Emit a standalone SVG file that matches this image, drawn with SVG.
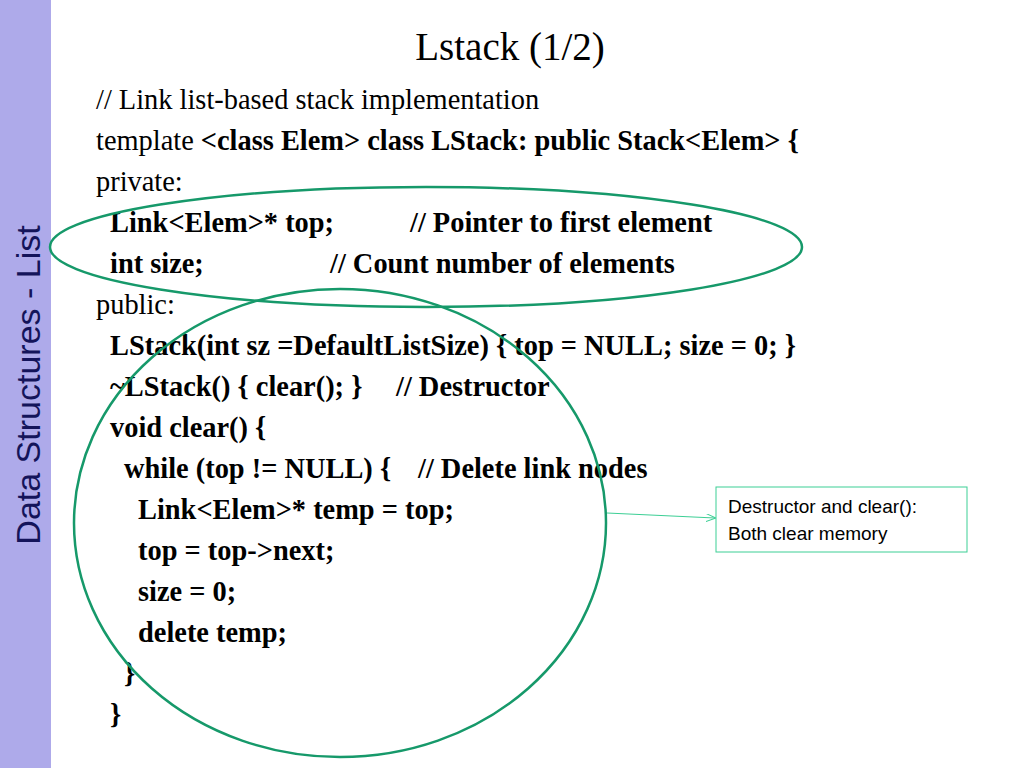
<svg xmlns="http://www.w3.org/2000/svg" width="1024" height="768" viewBox="0 0 1024 768">
<style>
.c{font-family:"Liberation Serif",serif;font-size:28.4px;fill:#000}
.b{font-weight:bold}
.e{fill:none;stroke:#16996a;stroke-width:2.5}
</style>
<defs><marker id="a" markerWidth="10" markerHeight="8" refX="9" refY="4" orient="auto" markerUnits="userSpaceOnUse"><path d="M0,0 L10,4 L0,8" fill="none" stroke="#3ccf95" stroke-width="1"/></marker></defs>
<rect width="1024" height="768" fill="#fff"/>
<rect x="0" y="0" width="51" height="768" fill="#aeaaea"/>
<text transform="translate(40,385) rotate(-90)" text-anchor="middle" font-family="Liberation Sans,sans-serif" font-size="34" fill="#14145a">Data Structures - List</text>
<text x="510" y="60" text-anchor="middle" font-family="Liberation Serif,serif" font-size="39">Lstack (1/2)</text>
<g id="code">
<text class="c" x="96" y="109">// Link list-based stack implementation</text>
<text class="c" x="96" y="150">template <tspan class="b">&lt;class Elem&gt; class LStack: public Stack&lt;Elem&gt; {</tspan></text>
<text class="c" x="96" y="191">private:</text>
<text class="c b" x="110" y="232">Link&lt;Elem&gt;* top;</text>
<text class="c b" x="410" y="232">// Pointer to first element</text>
<text class="c b" x="110" y="273">int size;</text>
<text class="c b" x="330" y="273">// Count number of elements</text>
<text class="c" x="96" y="314">public:</text>
<text class="c b" x="110" y="355">LStack(int sz =DefaultListSize) { top = NULL; size = 0; }</text>
<text class="c b" x="110" y="396">~LStack() { clear(); }</text>
<text class="c b" x="396" y="396">// Destructor</text>
<text class="c b" x="110" y="437">void clear() {</text>
<text class="c b" x="124" y="478">while (top != NULL) {</text>
<text class="c b" x="418" y="478">// Delete link nodes</text>
<text class="c b" x="138" y="519">Link&lt;Elem&gt;* temp = top;</text>
<text class="c b" x="138" y="560">top = top-&gt;next;</text>
<text class="c b" x="138" y="601">size = 0;</text>
<text class="c b" x="138" y="642">delete temp;</text>
<text class="c b" x="124" y="683">}</text>
<text class="c b" x="110" y="724">}</text>
</g>
<g id="ellipses">
<ellipse class="e" cx="426" cy="247" rx="376" ry="60"/>
<ellipse class="e" cx="340" cy="523" rx="266" ry="234"/>
</g>
<g id="note">
<rect x="716" y="487" width="251" height="65" fill="#fff" stroke="#3ccf95" stroke-width="1"/>
<text x="728" y="513" font-family="Liberation Sans,sans-serif" font-size="19">Destructor and clear():</text>
<text x="728" y="540" font-family="Liberation Sans,sans-serif" font-size="19">Both clear memory</text>
</g>
<g id="connectors">
<line x1="607" y1="513" x2="715" y2="518" stroke="#3ccf95" stroke-width="1" marker-end="url(#a)"/>
</g>
</svg>
